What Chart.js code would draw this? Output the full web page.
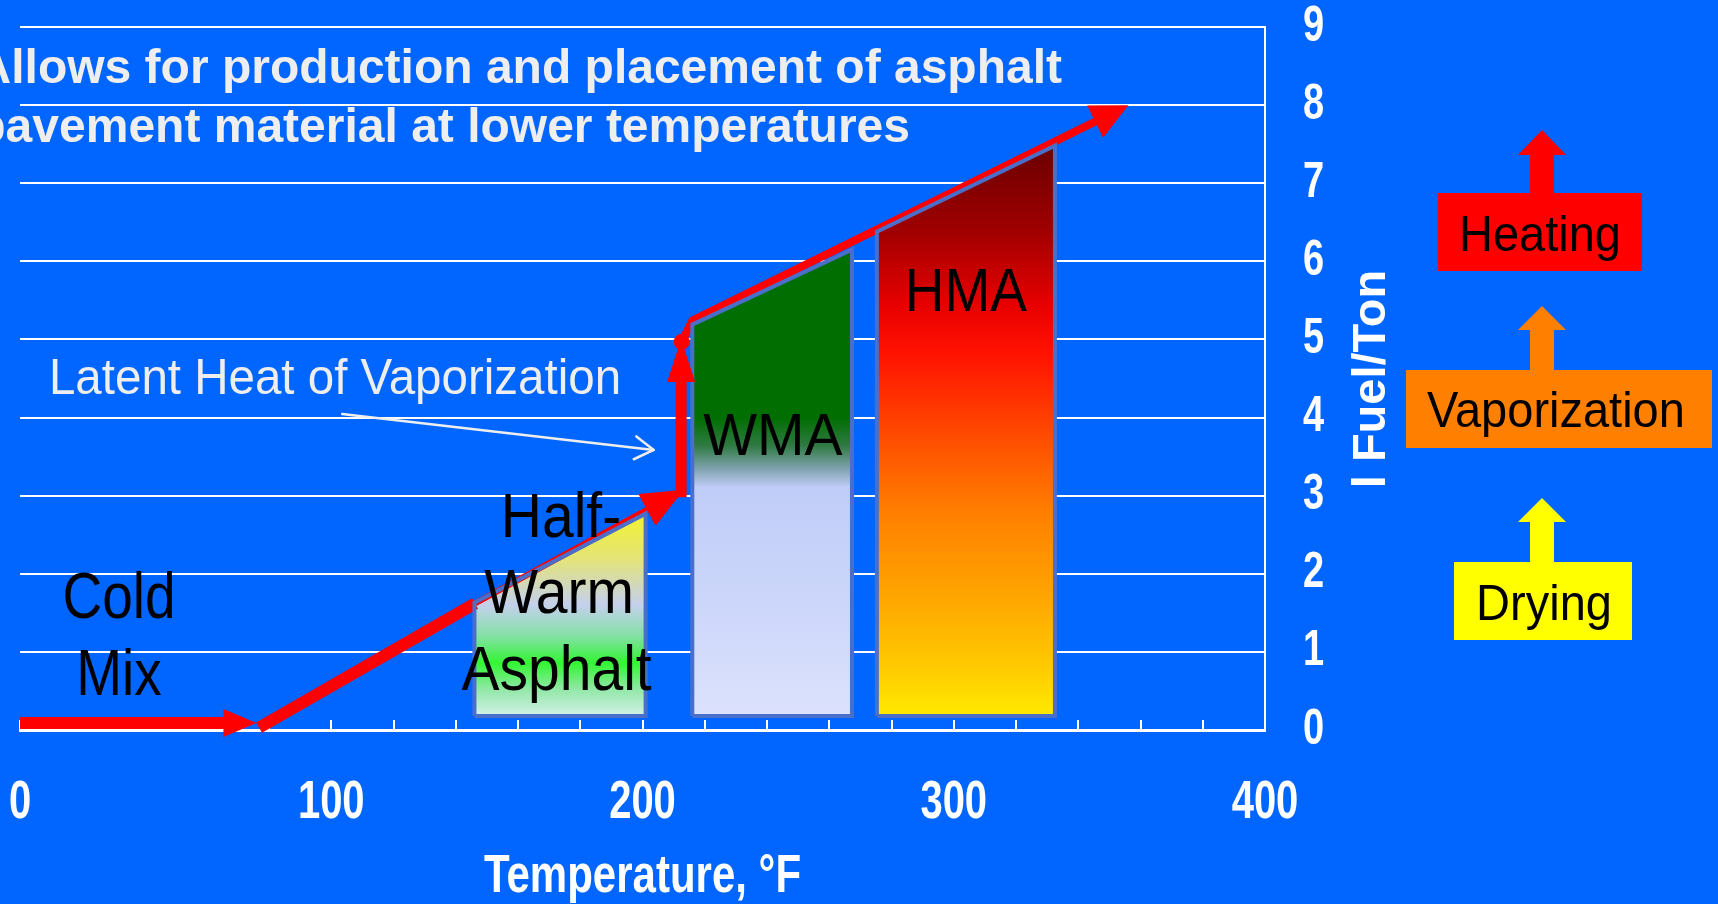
<!DOCTYPE html>
<html>
<head>
<meta charset="utf-8">
<script src="https://cdn.jsdelivr.net/npm/chart.js@4.4.1/dist/chart.umd.min.js"></script>
<style>
  html, body { margin: 0; padding: 0; background: #0066FF; overflow: hidden; }
  #wrap { width: 1718px; height: 904px; position: relative; }
</style>
</head>
<body>
<div id="wrap"><canvas id="c" width="1718" height="904"></canvas></div>
<script>
// ---------------- data ----------------
const xTickLabels = [0, 100, 200, 300, 400];           // Temperature, °F
const yTickLabels = [0, 1, 2, 3, 4, 5, 6, 7, 8, 9];     // l Fuel/Ton

// red process arrows (temperature, fuel)
const coldArrowX   = [0, 66];
const coldArrowY   = [0.09, 0.09];
const heatArrowX   = [76.8, 146.2, 202];
const heatArrowY   = [0.03, 1.62, 2.83];
const latentArrowX = [212.4, 212.4];
const latentArrowY = [2.98, 4.48];
const topArrowX    = [212.6, 216, 346];
const topArrowY    = [4.97, 5.24, 7.80];

// mix regions (closed outlines)
const hwaX = [146, 146, 201, 201, 146];
const hwaY = [0.18, 1.63, 2.77, 0.18, 0.18];
const wmaX = [216, 216, 267.3, 267.3, 216];
const wmaY = [0.18, 5.19, 6.15, 0.18, 0.18];
const hmaX = [275.3, 275.3, 332.5, 332.5, 275.3];
const hmaY = [0.18, 6.38, 7.48, 0.18, 0.18];

// text
const headline = ['Allows for production and placement of asphalt', 'pavement material at lower temperatures'];
const stageNames = ['Heating', 'Vaporization', 'Drying'];
const yTitle = 'l Fuel/Ton';
const xTitle = 'Temperature, °F';

// ---------------- styling / layout ----------------
const SANS = '"Liberation Sans", Arial, Helvetica, sans-serif';
const BG = '#0066FF';
const RED = '#FF0000';
const EDGE = '#4A6FCB';

function pts(xs, ys) { return xs.map((x, i) => ({ x: x, y: ys[i] })); }

const dataLabels = [
  { text: 'Cold', x: 31.8, y: 1.434, size: 55, sy: 1.18 },
  { text: 'Mix', x: 31.8, y: 0.448, size: 55, sy: 1.18 },
  { text: 'Half-', x: 173.8, y: 2.47, size: 57, sy: 1.1 },
  { text: 'Warm', x: 173.2, y: 1.50, size: 57, sy: 1.1 },
  { text: 'Asphalt', x: 172.4, y: 0.51, size: 57, sy: 1.1 },
  { text: 'WMA', x: 241.9, y: 3.52, size: 57, sy: 1.03 },
  { text: 'HMA', x: 303.9, y: 5.36, size: 55, sy: 1.1 }
];
const latentNote = { text: 'Latent Heat of Vaporization', x: 9.3, y: 4.30, size: 47.5, sy: 1.05,
                     from: [103.5, 4.046], to: [203.6, 3.585] };

const stageBoxes = [
  { color: '#FF0000', box: [1438, 193, 1642, 271], tx: 1540, ty: 251, tip: 130, base: 155 },
  { color: '#FF8000', box: [1406, 370, 1712, 448], tx: 1556, ty: 427, tip: 306, base: 330 },
  { color: '#FFFF00', box: [1454, 562, 1632, 640], tx: 1544, ty: 620, tip: 498, base: 522 }
];

function drawText(ctx, txt, x, y, o) {
  ctx.save();
  ctx.translate(x, y);
  ctx.scale(1, o.sy || 1);
  ctx.font = (o.weight || 'normal') + ' ' + o.size + 'px ' + (o.family || SANS);
  ctx.fillStyle = o.color;
  ctx.textAlign = o.align || 'center';
  ctx.textBaseline = 'alphabetic';
  ctx.fillText(txt, 0, 0);
  ctx.restore();
}

// vertically stretch the text that a scale draws (the original slide was stretched)
function stretchText(scale, method, sy) {
  if (scale['_st_' + method]) return;
  const orig = scale[method];
  scale[method] = function () {
    const ctx = this.ctx;
    const of = CanvasRenderingContext2D.prototype.fillText;
    ctx.fillText = function (t, x, y, mw) {
      this.save();
      this.translate(x, y);
      this.scale(1, sy);
      if (mw === undefined) of.call(this, t, 0, 0); else of.call(this, t, 0, 0, mw);
      this.restore();
    };
    try { orig.apply(this, arguments); } finally { delete ctx.fillText; }
  };
  scale['_st_' + method] = true;
}

const bgPlugin = {
  id: 'bg',
  beforeDraw(chart) {
    const c = chart.ctx;
    c.save(); c.fillStyle = BG; c.fillRect(0, 0, chart.width, chart.height); c.restore();
    stretchText(chart.scales.x, 'drawLabels', 1.33);
    stretchText(chart.scales.x, 'drawTitle', 1.26);
    stretchText(chart.scales.y, 'drawLabels', 1.29);
  }
};

const shapeFill = {
  id: 'shapeFill',
  beforeDatasetsDraw(chart) {
    const ctx = chart.ctx;
    chart.data.datasets.forEach((ds, i) => {
      if (!ds.gradStops) return;
      const P = chart.getDatasetMeta(i).data;
      let minY = Infinity, maxY = -Infinity;
      P.forEach(p => { minY = Math.min(minY, p.y); maxY = Math.max(maxY, p.y); });
      const g = ctx.createLinearGradient(0, minY, 0, maxY);
      ds.gradStops.forEach(s => g.addColorStop(s[0], s[1]));
      ctx.save();
      ctx.beginPath();
      P.forEach((p, k) => k ? ctx.lineTo(p.x, p.y) : ctx.moveTo(p.x, p.y));
      ctx.closePath();
      ctx.fillStyle = g;
      ctx.fill();
      ctx.restore();
    });
  }
};

const overlay = {
  id: 'overlay',
  afterDatasetsDraw(chart) {
    const ctx = chart.ctx;
    const xs = chart.scales.x, ys = chart.scales.y;
    // arrow heads on the red lines
    chart.data.datasets.forEach((ds, i) => {
      if (!ds.head) return;
      const P = chart.getDatasetMeta(i).data;
      const a = P[P.length - 2], b = P[P.length - 1];
      const dx = b.x - a.x, dy = b.y - a.y, L = Math.hypot(dx, dy);
      const ux = dx / L, uy = dy / L;
      const len = ds.head[0], hw = ds.head[1];
      const bx = b.x - ux * 2, by = b.y - uy * 2;
      ctx.save();
      ctx.fillStyle = RED;
      ctx.beginPath();
      ctx.moveTo(b.x + ux * len, b.y + uy * len);
      ctx.lineTo(bx - uy * hw, by + ux * hw);
      ctx.lineTo(bx + uy * hw, by - ux * hw);
      ctx.closePath();
      ctx.fill();
      ctx.restore();
    });
    // black labels in the plot
    dataLabels.forEach(l => {
      drawText(ctx, l.text, xs.getPixelForValue(l.x), ys.getPixelForValue(l.y),
        { size: l.size, sy: l.sy, color: '#000000' });
    });
    // latent heat note
    drawText(ctx, latentNote.text, xs.getPixelForValue(latentNote.x), ys.getPixelForValue(latentNote.y),
      { size: latentNote.size, sy: latentNote.sy, color: '#EEEEEE', align: 'left' });
    const x0 = xs.getPixelForValue(latentNote.from[0]), y0 = ys.getPixelForValue(latentNote.from[1]);
    const x1 = xs.getPixelForValue(latentNote.to[0]), y1 = ys.getPixelForValue(latentNote.to[1]);
    const ang = Math.atan2(y1 - y0, x1 - x0);
    ctx.save();
    ctx.strokeStyle = '#EEEEEE'; ctx.lineWidth = 2.5; ctx.lineCap = 'round'; ctx.lineJoin = 'round';
    ctx.beginPath(); ctx.moveTo(x0, y0); ctx.lineTo(x1, y1); ctx.stroke();
    ctx.beginPath();
    ctx.moveTo(x1 - 22 * Math.cos(ang - 0.55), y1 - 22 * Math.sin(ang - 0.55));
    ctx.lineTo(x1, y1);
    ctx.lineTo(x1 - 22 * Math.cos(ang + 0.55), y1 - 22 * Math.sin(ang + 0.55));
    ctx.stroke();
    ctx.restore();
  },
  afterDraw(chart) {
    const ctx = chart.ctx;
    // headline
    drawText(ctx, headline[0], 1062, 83, { size: 48, weight: 'bold', color: '#EEEEEE', align: 'right' });
    drawText(ctx, headline[1], 910, 142, { size: 48, weight: 'bold', color: '#EEEEEE', align: 'right' });
    // y axis title (reads bottom to top)
    ctx.save();
    ctx.translate(1385, 379);
    ctx.rotate(-Math.PI / 2);
    ctx.font = 'bold 47px ' + SANS;
    ctx.fillStyle = '#FFFFFF';
    ctx.textAlign = 'center';
    ctx.textBaseline = 'alphabetic';
    ctx.fillText(yTitle, 0, 0);
    ctx.restore();
    // stage boxes with up arrows
    stageBoxes.forEach((s, i) => {
      const b = s.box;
      ctx.save();
      ctx.fillStyle = s.color;
      ctx.fillRect(b[0], b[1], b[2] - b[0], b[3] - b[1]);
      ctx.beginPath();
      ctx.moveTo(1542, s.tip);
      ctx.lineTo(1566, s.base);
      ctx.lineTo(1554, s.base);
      ctx.lineTo(1554, b[1] + 1);
      ctx.lineTo(1530, b[1] + 1);
      ctx.lineTo(1530, s.base);
      ctx.lineTo(1518, s.base);
      ctx.closePath();
      ctx.fill();
      ctx.restore();
      drawText(ctx, stageNames[i], s.tx, s.ty, { size: 47, sy: 1.07, color: '#000000' });
    });
  }
};

const redLine = (xs, ys, w, extra) => Object.assign({
  data: pts(xs, ys), showLine: true, borderColor: RED, backgroundColor: RED,
  borderWidth: w, pointRadius: 0, fill: false, clip: false, borderCapStyle: 'butt', borderJoinStyle: 'round'
}, extra || {});

const shape = (xs, ys, stops) => ({
  data: pts(xs, ys), showLine: true, borderColor: EDGE, borderWidth: 4, pointRadius: 0,
  fill: false, order: 1, gradStops: stops, borderJoinStyle: 'miter'
});

const chart = new Chart(document.getElementById('c'), {
  type: 'scatter',
  data: {
    datasets: [
      redLine(coldArrowX, coldArrowY, 12, { order: 0, head: [31, 14] }),
      redLine(heatArrowX, heatArrowY, 12, { order: 2, head: [40, 18],
        segment: { borderWidth: ctx => ctx.p0DataIndex === 0 ? 12 : 6 } }),
      redLine(latentArrowX, latentArrowY, 11, { order: 0, head: [41, 14] }),
      redLine(topArrowX, topArrowY, 8, { order: 2, head: [35, 18],
        pointRadius: ctx => ctx.dataIndex === 0 ? 8 : 0, pointBorderWidth: 0 }),
      shape(hwaX, hwaY, [[0, '#F2F230'], [0.22, '#E4E476'], [0.45, '#C4D0EC'], [0.6, '#86E0A8'],
                         [0.74, '#33F533'], [0.87, '#92E8A8'], [1, '#D4F0E8']]),
      shape(wmaX, wmaY, [[0, '#006E00'], [0.36, '#006E00'], [0.42, '#2F7A42'], [0.47, '#80A2AE'],
                         [0.51, '#C0CDF8'], [0.75, '#CCD6FA'], [1, '#DCE2FC']]),
      shape(hmaX, hmaY, [[0, '#6A0000'], [0.15, '#A00000'], [0.28, '#E80000'], [0.36, '#FF1000'],
                         [0.48, '#FF4000'], [0.64, '#FF7E00'], [0.8, '#FFA800'], [0.92, '#FFCC00'], [1, '#FFEA00']])
    ]
  },
  options: {
    responsive: false,
    animation: false,
    events: [],
    devicePixelRatio: 1,
    layout: { padding: { left: 20, top: 27, right: 0, bottom: 0 } },
    plugins: { legend: { display: false }, tooltip: { enabled: false } },
    elements: { point: { radius: 0 }, line: { tension: 0 } },
    scales: {
      x: {
        type: 'linear', position: 'bottom', min: 0, max: 400,
        ticks: {
          stepSize: 20, autoSkip: false, maxRotation: 0, color: '#FFFFFF', padding: 63,
          font: { family: SANS, size: 40, weight: 'bold', lineHeight: 1 },
          callback: v => xTickLabels.includes(v) ? String(v) : ''
        },
        grid: { display: true, drawOnChartArea: false, drawTicks: true, tickLength: -10, color: '#FFFFFF', lineWidth: 2 },
        border: { display: true, color: '#FFFFFF', width: 3 },
        title: { display: true, text: xTitle, color: '#FFFFFF', padding: { top: 0, bottom: 1 },
                 font: { family: SANS, size: 42, weight: 'bold' } },
        afterFit: s => { s.height = 174; s.paddingLeft = 0; s.paddingRight = 0; }
      },
      y: {
        type: 'linear', position: 'right', min: 0, max: 9,
        ticks: {
          stepSize: 1, color: '#FFFFFF', padding: 38,
          font: { family: SANS, size: 38, weight: 'bold', lineHeight: 1 },
          callback: v => yTickLabels.includes(v) ? String(v) : ''
        },
        grid: { color: '#FFFFFF', lineWidth: 2, drawTicks: false },
        border: { display: true, color: '#FFFFFF', width: 2 },
        afterFit: s => { s.width = 453; s.paddingTop = 0; s.paddingBottom = 0; }
      }
    }
  },
  plugins: [bgPlugin, shapeFill, overlay]
});
</script>
</body>
</html>
